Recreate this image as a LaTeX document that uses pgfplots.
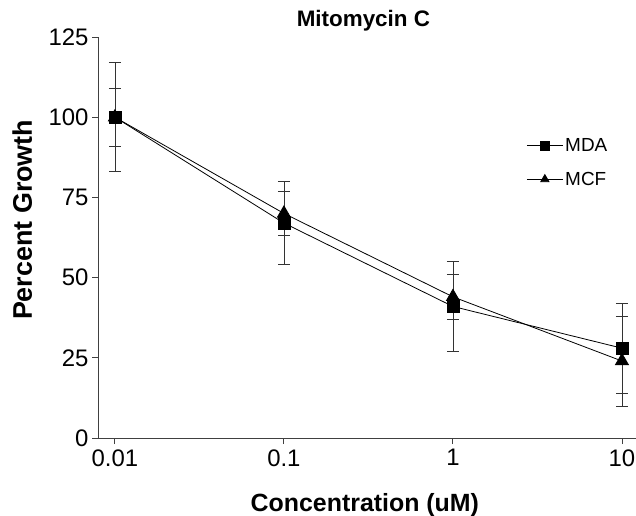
\documentclass[border=0pt]{standalone}
\usepackage{fontspec}
\setmainfont{Liberation Sans}
\usepackage{pgfplots}
\pgfplotsset{compat=1.18}
\begin{document}
\begin{tikzpicture}
\path[use as bounding box] (-98bp,-78bp) rectangle (538bp,438bp);
\begin{axis}[
  at={(0,0)}, anchor=south west,
  scale only axis, width=538bp, height=401bp,
  xmode=log, xmin=0.007943, xmax=12.11,
  ymin=0, ymax=125,
  axis x line*=bottom, axis y line*=left,
  axis line style={black!75, line width=0.9bp},
  xtick={0.01,0.1,1,10}, xticklabels={0.01,0.1,1,10},
  xminorticks=false,
  ytick={0,25,50,75,100,125},
  tick align=outside, major tick length=6bp,
  tick style={black!75, line width=0.9bp},
  /pgf/number format/assume math mode=true,
  tick label style={font=\fontsize{24}{28}\selectfont},
  xticklabel style={yshift=-2bp},
  clip=false,
  title={\textbf{Mitomycin C}},
  title style={at={(axis description cs:0.4933,1.0125)}, anchor=base, font=\fontsize{22.5}{27}\selectfont},
  xlabel={\textbf{Concentration (uM)}},
  xlabel style={at={(axis description cs:0.496,-0.1845)}, anchor=base, font=\fontsize{25}{30}\selectfont},
  ylabel={\textbf{Percent Growth}},
  ylabel style={at={(axis description cs:-0.1227,0.544)}, anchor=base, rotate=0, font=\fontsize{27}{32}\selectfont},
  legend style={at={(axis description cs:0.796,0.7525)}, anchor=north west, draw=none, fill=none,
    font=\fontsize{19}{22}\selectfont, row sep=15bp, inner sep=0pt,
    nodes={inner sep=2bp}},
  legend cell align=left,
  legend image code/.code={\draw[mark repeat=2,mark phase=2,#1, mark size=4.7bp] plot coordinates {(0bp,0bp)(18bp,0bp)(36bp,0bp)};},
  error bars/error bar style={black!80, line width=0.8bp},
  error bars/error mark options={rotate=90, mark size=6bp, black!80, line width=0.8bp},
]
\addplot[black, line width=0.8bp, mark=square*, mark size=6bp,
  error bars/.cd, y dir=both, y explicit]
  coordinates {(0.01,100) +- (0,17) (0.1,67) +- (0,13) (1,41) +- (0,14) (10,28) +- (0,14)};
\addlegendentry{MDA}
\addplot[black, line width=0.8bp, mark=triangle*, mark size=7.5bp,
  error bars/.cd, y dir=both, y explicit]
  coordinates {(0.01,100) +- (0,9) (0.1,70) +- (0,7) (1,44) +- (0,7) (10,24) +- (0,14)};
\addlegendentry{MCF}
\end{axis}
\end{tikzpicture}
\end{document}
